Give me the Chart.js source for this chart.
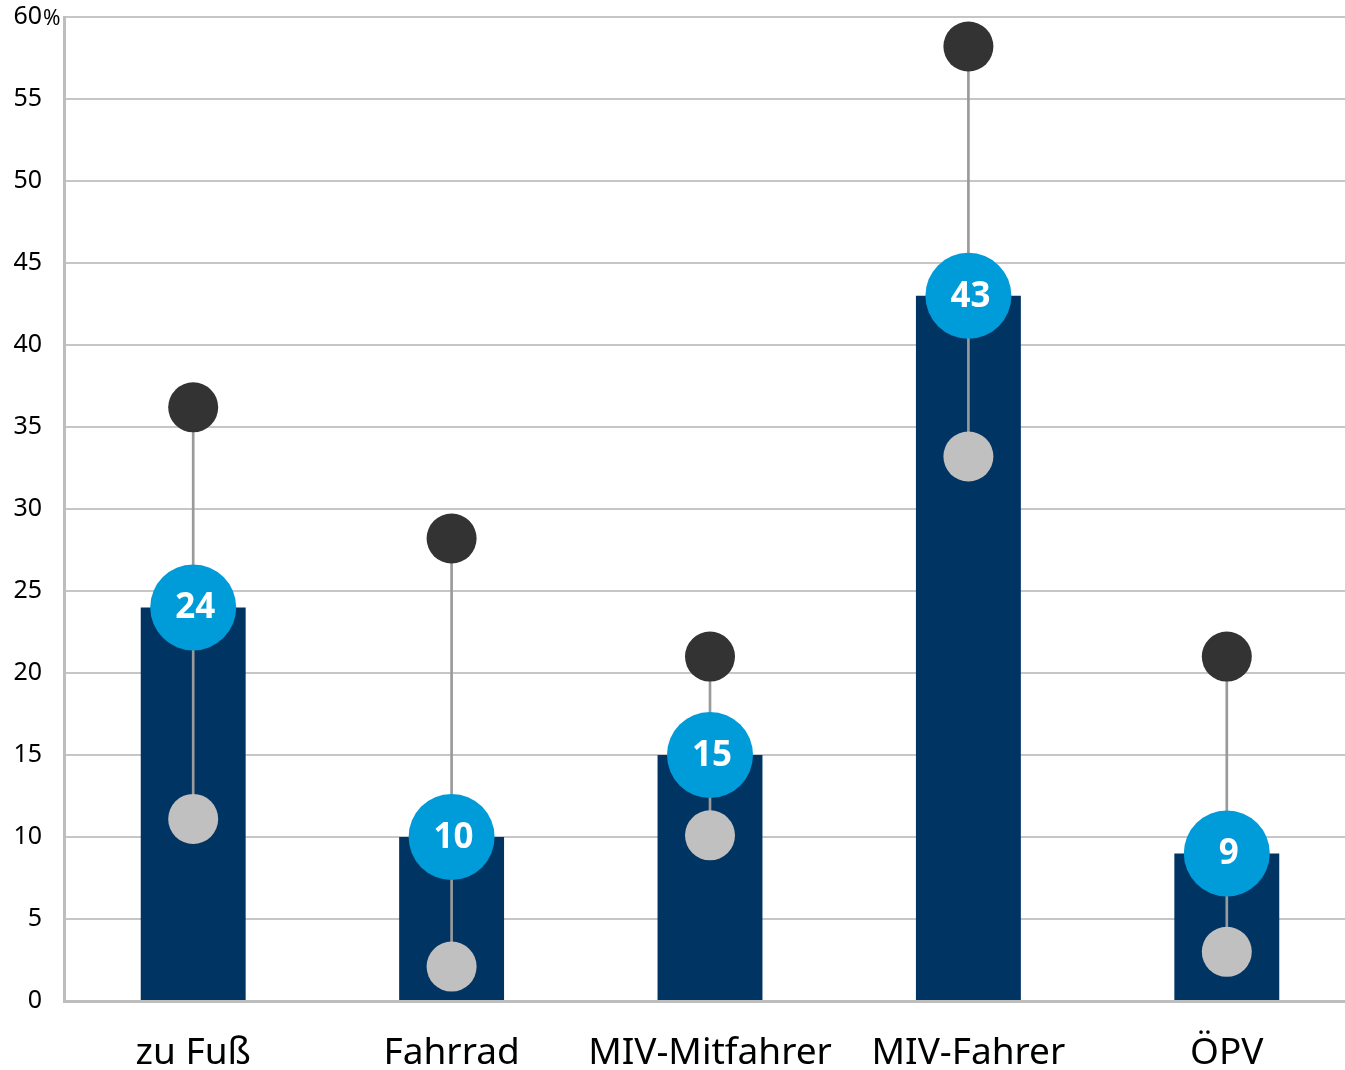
<!DOCTYPE html>
<html>
<head>
<meta charset="utf-8">
<script src="https://cdn.jsdelivr.net/npm/chart.js@4"></script>
<style>
  html, body { margin: 0; padding: 0; background: #fff; overflow: hidden; }
  #wrap { width: 1356px; height: 1070px; }
</style>
</head>
<body>
<div id="wrap"><canvas id="chart"></canvas></div>
<script>
    "use strict";

    // Werte
    const categories = ["zu Fuß", "Fahrrad", "MIV-Mitfahrer", "MIV-Fahrer", "ÖPV"];
    const mainValues = [24, 10, 15, 43, 9];
    const highValues = [36.2, 28.2, 21.0, 58.2, 21.0];
    const lowValues = [11.1, 2.1, 10.1, 33.2, 3.0];
    const yTicks = [0, 5, 10, 15, 20, 25, 30, 35, 40, 45, 50, 55, 60];

    const fontFamily = "'Noto Sans', 'Open Sans', sans-serif";

    // Beschriftung in den blauen Kreisen und das % an der 60
    const labelPlugin = {
        id: "circleLabels",
        afterDatasetsDraw: function (chart) {
            const ctx = chart.ctx;
            const meta = chart.getDatasetMeta(0);
            ctx.save();
            ctx.fillStyle = "#ffffff";
            ctx.font = "bold 35px " + fontFamily;
            ctx.textAlign = "center";
            ctx.textBaseline = "middle";
            meta.data.forEach(function (pt, i) {
                ctx.fillText(String(mainValues[i]), pt.x + 2, pt.y + 1);
            });
            const y = chart.scales.y;
            ctx.fillStyle = "#000000";
            ctx.font = "21px " + fontFamily;
            ctx.textAlign = "left";
            ctx.fillText("%", 43, y.getPixelForValue(60) + 2);
            ctx.restore();
        }
    };

    const ctx = document.getElementById("chart");
    const myChart = new Chart(ctx, {
        data: {
            labels: categories,
            datasets: [
                {
                    type: "line",
                    data: mainValues,
                    showLine: false,
                    pointRadius: 43,
                    pointHoverRadius: 43,
                    pointBackgroundColor: "#009bd9",
                    pointBorderWidth: 0,
                    clip: false,
                    order: 0
                },
                {
                    type: "line",
                    data: highValues,
                    showLine: false,
                    pointRadius: 25,
                    pointHoverRadius: 25,
                    pointBackgroundColor: "#333333",
                    pointBorderWidth: 0,
                    clip: false,
                    order: 1
                },
                {
                    type: "line",
                    data: lowValues,
                    showLine: false,
                    pointRadius: 25,
                    pointHoverRadius: 25,
                    pointBackgroundColor: "#c0c0c0",
                    pointBorderWidth: 0,
                    clip: false,
                    order: 1
                },
                {
                    type: "bar",
                    data: lowValues.map(function (v, i) { return [v, highValues[i]]; }),
                    backgroundColor: "#9a9a9a",
                    barThickness: 2,
                    grouped: false,
                    order: 2
                },
                {
                    type: "bar",
                    data: mainValues,
                    backgroundColor: "#003463",
                    barPercentage: 0.406,
                    categoryPercentage: 1,
                    grouped: false,
                    order: 3
                }
            ]
        },
        options: {
            responsive: true,
            maintainAspectRatio: false,
            animation: false,
            events: [],
            layout: { autoPadding: false, padding: { top: 17, right: 0, left: 0, bottom: 0 } },
            plugins: {
                legend: { display: false },
                tooltip: { enabled: false }
            },
            scales: {
                x: {
                    grid: { display: false, drawTicks: false },
                    border: { display: true, color: "#bdbdbd", width: 3 },
                    ticks: {
                        color: "#000000",
                        font: { family: fontFamily, size: 37 },
                        padding: 30,
                        maxRotation: 0
                    },
                    afterFit: function (scale) {
                        scale.height = 69;
                        scale.paddingLeft = 0;
                        scale.paddingRight = 0;
                    }
                },
                y: {
                    min: 0,
                    max: 60,
                    afterBuildTicks: function (scale) {
                        scale.ticks = yTicks.map(function (v) { return { value: v }; });
                    },
                    grid: { color: "#c6c6c6", lineWidth: 2, drawTicks: false },
                    border: { display: true, color: "#bdbdbd", width: 3 },
                    ticks: {
                        color: "#000000",
                        font: { family: fontFamily, size: 25 },
                        padding: 22
                    },
                    afterFit: function (scale) {
                        scale.width = 64;
                        scale.paddingTop = 0;
                        scale.paddingBottom = 0;
                    }
                }
            }
        },
        plugins: [labelPlugin]
    });
</script>
</body>
</html>
